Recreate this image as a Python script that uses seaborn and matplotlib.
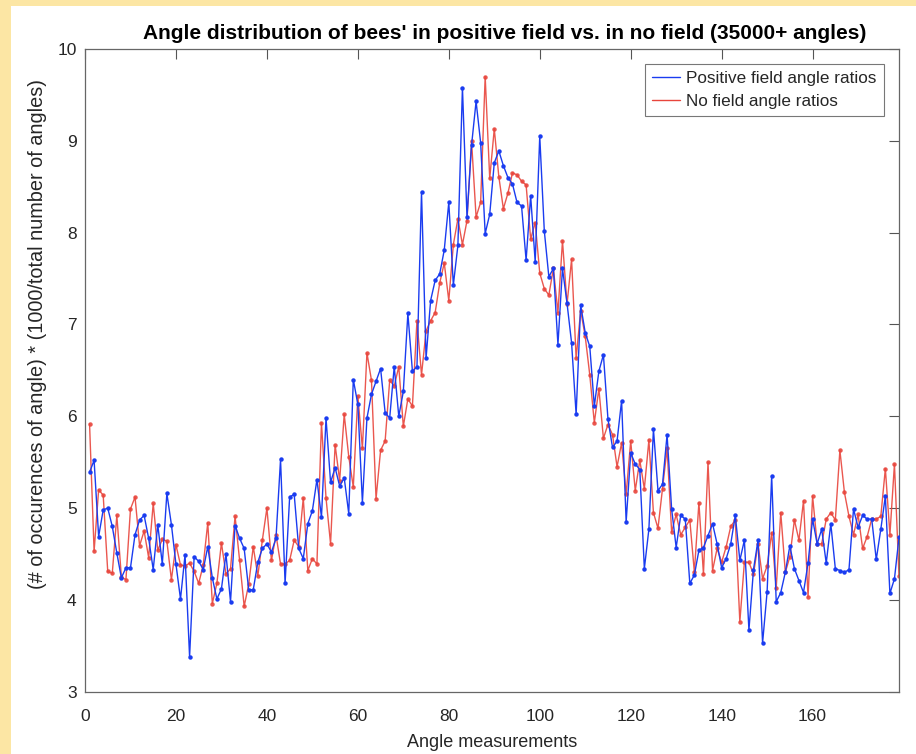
import numpy as np
import pandas as pd
import matplotlib
matplotlib.use("Agg")
import matplotlib.pyplot as plt
import matplotlib.patches as mpatches
from matplotlib.lines import Line2D
import seaborn as sns

# --- data (angle 1..179) ---
angles = list(range(1, 180))

positive_field = [
    5.39, 5.52, 4.69, 4.98, 5.00, 4.80, 4.51, 4.24, 4.35, 4.35,
    4.71, 4.87, 4.92, 4.67, 4.33, 4.82, 4.39, 5.16, 4.82, 4.39,
    4.01, 4.49, 3.38, 4.47, 4.42, 4.33, 4.58, 4.24, 4.01, 4.12,
    4.50, 3.98, 4.81, 4.67, 4.56, 4.11, 4.11, 4.41, 4.56, 4.61,
    4.52, 4.67, 5.53, 4.18, 5.12, 5.15, 4.56, 4.45, 4.83, 4.97,
    5.31, 4.90, 5.98, 5.28, 5.44, 5.24, 5.33, 4.94, 6.40, 6.13,
    5.06, 5.98, 6.24, 6.38, 6.52, 6.04, 5.98, 6.54, 6.00, 6.27,
    7.12, 6.49, 6.54, 8.44, 6.63, 7.26, 7.48, 7.55, 7.81, 8.33,
    7.43, 7.86, 9.58, 8.17, 8.95, 9.43, 8.98, 7.99, 8.20, 8.76,
    8.89, 8.73, 8.60, 8.53, 8.33, 8.29, 7.70, 8.40, 7.68, 9.05,
    8.02, 7.52, 7.61, 6.78, 7.61, 7.23, 6.80, 6.02, 7.21, 6.91,
    6.76, 6.11, 6.49, 6.67, 5.97, 5.66, 5.73, 6.17, 4.85, 5.60,
    5.48, 5.42, 4.34, 4.77, 5.86, 5.19, 5.26, 5.80, 4.99, 4.57,
    4.92, 4.88, 4.18, 4.27, 4.54, 4.57, 4.70, 4.83, 4.61, 4.35,
    4.45, 4.61, 4.92, 4.43, 4.65, 3.67, 4.33, 4.65, 3.53, 4.09,
    5.35, 3.98, 4.08, 4.30, 4.59, 4.34, 4.21, 4.08, 4.40, 4.88,
    4.61, 4.77, 4.40, 4.83, 4.34, 4.32, 4.30, 4.33, 4.99, 4.79,
    4.92, 4.88, 4.88, 4.44, 4.77, 5.13, 4.07, 4.23, 4.68,
]

no_field = [
    5.92, 4.53, 5.20, 5.14, 4.31, 4.29, 4.92, 4.25, 4.22, 4.99,
    5.12, 4.59, 4.75, 4.46, 5.05, 4.54, 4.66, 4.64, 4.22, 4.60,
    4.38, 4.37, 4.40, 4.31, 4.18, 4.38, 4.84, 3.96, 4.18, 4.62,
    4.28, 4.34, 4.91, 4.43, 3.93, 4.17, 4.58, 4.26, 4.65, 5.00,
    4.43, 4.71, 4.39, 4.39, 4.43, 4.65, 4.58, 5.11, 4.32, 4.45,
    4.39, 5.93, 5.11, 4.61, 5.69, 5.30, 6.02, 5.56, 5.23, 6.22,
    5.65, 6.69, 6.39, 5.10, 5.63, 5.73, 6.39, 6.33, 6.54, 5.89,
    6.19, 6.11, 7.04, 6.45, 6.93, 7.04, 7.13, 7.45, 7.67, 7.26,
    7.87, 8.15, 7.87, 8.13, 9.00, 8.17, 8.33, 9.70, 8.59, 9.13,
    8.61, 8.26, 8.43, 8.65, 8.63, 8.56, 8.52, 7.93, 8.11, 7.56,
    7.39, 7.32, 7.61, 7.13, 7.91, 7.22, 7.71, 6.63, 7.15, 6.87,
    6.45, 5.93, 6.30, 5.76, 5.91, 5.80, 5.45, 5.71, 5.15, 5.73,
    5.19, 5.52, 5.21, 5.74, 4.95, 4.78, 5.21, 5.65, 4.74, 4.93,
    4.71, 4.79, 4.87, 4.30, 5.06, 4.28, 5.50, 4.32, 4.56, 4.41,
    4.58, 4.80, 4.87, 3.76, 4.41, 4.41, 4.28, 4.61, 4.23, 4.37,
    4.73, 4.13, 4.95, 4.30, 4.47, 4.87, 4.65, 5.08, 4.03, 5.13,
    4.61, 4.61, 4.88, 4.95, 4.87, 5.63, 5.17, 4.91, 4.71, 4.93,
    4.56, 4.69, 4.88, 4.88, 4.91, 5.43, 4.71, 5.48, 4.26,
]

series_names = ["Positive field angle ratios", "No field angle ratios"]
series_colors = ["#1a3cf0", "#e8453c"]
x_ticks = [0, 20, 40, 60, 80, 100, 120, 140, 160]
y_ticks = [3, 4, 5, 6, 7, 8, 9, 10]

df = pd.concat([
    pd.DataFrame({"angle": angles, "ratio": positive_field, "series": series_names[0]}),
    pd.DataFrame({"angle": angles, "ratio": no_field, "series": series_names[1]}),
])

sns.set_theme(style="white")
plt.rcParams["font.family"] = ["Liberation Sans", "DejaVu Sans"]

fig = plt.figure(figsize=(9.16, 7.54), dpi=100, facecolor="#fce6a4")
# white sheet inside the yellow frame (screenshot border)
fig.patches.append(mpatches.Rectangle((11 / 916, 0), 1, 1 - 6 / 754,
                                      transform=fig.transFigure,
                                      facecolor="white", edgecolor="none", zorder=-1))
ax = fig.add_axes([85 / 916, 1 - 691.7 / 754, (899 - 85) / 916, (691.7 - 49) / 754])

sns.lineplot(data=df, x="angle", y="ratio", hue="series",
             palette=dict(zip(series_names, series_colors)),
             estimator=None, sort=False, ax=ax, legend=False,
             linewidth=1.0, marker="o", markersize=3.2, markeredgewidth=0)

# blue sits on top where the lines overlap
lines = ax.get_lines()
if len(lines) >= 2:
    lines[0].set_zorder(3)
    lines[1].set_zorder(2)
    lines[1].set_alpha(0.9)

ax.set_xlim(0, 179)
ax.set_ylim(3, 10)
ax.set_xticks(x_ticks)
ax.set_yticks(y_ticks)
ax.tick_params(direction="in", length=7, width=0.8, colors="#555555",
               labelcolor="#262626", labelsize=12.5, top=True, right=True,
               pad=6)
ax.tick_params(axis="x", pad=12.5)
for side in ax.spines.values():
    side.set_color("#666666")
    side.set_linewidth(0.9)

ax.set_xlabel("Angle measurements", fontsize=13, color="#262626", labelpad=7)
ax.set_ylabel("(# of occurences of angle) * (1000/total number of angles)",
              fontsize=14.3, color="#262626")
ax.yaxis.set_label_coords(-0.047, 0.556)
ax.set_title("Angle distribution of bees' in positive field vs. in no field (35000+ angles)",
             fontsize=15, fontweight="bold", color="black", pad=7, x=0.516)

handles = [Line2D([], [], color=c, linewidth=1.0) for c in series_colors]
leg = ax.legend(handles, series_names, loc="upper right", frameon=True,
                fancybox=False, fontsize=12.3, handlelength=1.6,
                borderaxespad=0.9, borderpad=0.4, labelspacing=0.45,
                handletextpad=0.4)
leg.get_frame().set_edgecolor("#555555")
leg.get_frame().set_linewidth(0.8)

fig.savefig("out.png", dpi=100, facecolor=fig.get_facecolor())
